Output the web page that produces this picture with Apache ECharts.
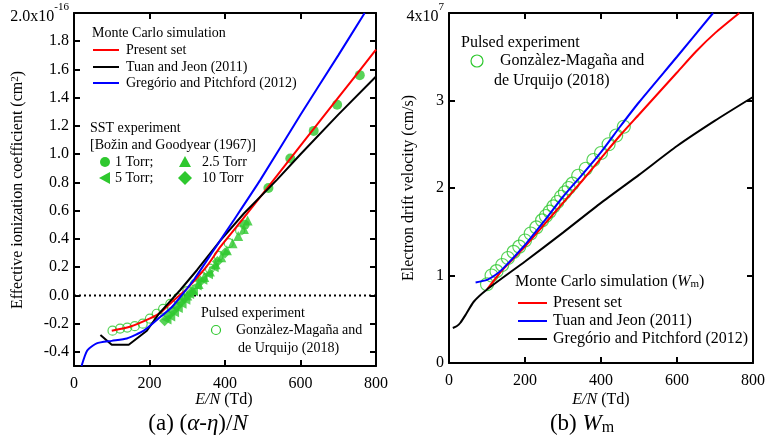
<!DOCTYPE html>
<html>
<head>
<meta charset="utf-8">
<script src="https://cdn.jsdelivr.net/npm/echarts@6/dist/echarts.min.js"></script>
<style>
  html, body { margin: 0; padding: 0; background: #fff; }
  #chart { width: 774px; height: 436px; }
</style>
</head>
<body>
<div id="chart"></div>
<script>
// ---- (a) effective ionization coefficient, x1e-16 cm2 ----
const xTicks = [0, 200, 400, 600, 800];
const yTicksA = [-0.4, -0.2, 0, 0.2, 0.4, 0.6, 0.8, 1.0, 1.2, 1.4, 1.6, 1.8, 2.0];
const presentA = [[100,-0.25],[150,-0.22],[200,-0.165],[230,-0.12],[260,-0.045],[300,0.05],[350,0.2],[388,0.345],[450,0.55],[515,0.77],[600,1.06],[700,1.4],[800,1.74]];
const tuanA = [[70,-0.28],[100,-0.35],[145,-0.35],[193,-0.25],[225,-0.13],[255,-0.04],[282,0.04],[326,0.18],[388,0.39],[450,0.58],[538,0.82],[600,1.0],[700,1.28],[800,1.55]];
const gregorioA = [[20,-0.5],[35,-0.39],[60,-0.34],[100,-0.322],[140,-0.305],[185,-0.25],[230,-0.15],[260,-0.08],[285,0.0],[320,0.12],[370,0.32],[420,0.52],[494,0.82],[600,1.28],[700,1.7],[770,2.0]];
const zeroLine = [[0,0],[800,0]];
const sst1 = [[452,0.5],[515,0.76],[573,0.97],[635,1.165],[697,1.35],[757,1.56]];
const sst25 = [[300,0.0],[315,0.04],[330,0.08],[345,0.13],[360,0.17],[375,0.22],[390,0.27],[405,0.32],[420,0.37],[435,0.42],[450,0.47],[460,0.53]];
const sst5 = [[245,-0.17],[255,-0.15],[265,-0.12],[275,-0.09],[285,-0.06],[295,-0.03],[305,0.01],[315,0.03],[325,0.07],[340,0.11],[355,0.15],[370,0.2]];
const sst10 = [[240,-0.18],[250,-0.14],[262,-0.11],[272,-0.08],[282,-0.05],[292,-0.02],[310,0.02],[335,0.1],[380,0.24],[400,0.3]];
const pulsedA = [[102,-0.25],[122,-0.235],[141,-0.228],[161,-0.218],[182,-0.2],[201,-0.165],[219,-0.13],[236,-0.095],[255,-0.06],[275,-0.02],[300,0.03],[320,0.08],[340,0.13],[360,0.19],[383,0.28],[410,0.37],[440,0.46]];

// ---- (b) electron drift velocity, x1e7 cm/s ----
const yTicksB = [0, 1, 2, 3, 4];
const presentB = [[100,0.84],[140,1.06],[200,1.33],[240,1.53],[300,1.83],[350,2.08],[400,2.34],[450,2.6],[500,2.84],[550,3.08],[600,3.32],[650,3.56],[700,3.77],[764,4.0]];
const tuanB = [[70,0.92],[100,0.95],[120,1.0],[140,1.07],[200,1.35],[250,1.62],[300,1.9],[350,2.15],[400,2.41],[450,2.7],[500,2.98],[600,3.5],[695,4.0]];
const gregorioB = [[10,0.4],[20,0.42],[30,0.46],[45,0.56],[65,0.7],[100,0.84],[200,1.16],[300,1.49],[400,1.83],[500,2.15],[600,2.48],[700,2.77],[800,3.04]];
const pulsedB = [[100,0.9],[112,1.0],[125,1.05],[140,1.12],[155,1.2],[170,1.27],[185,1.33],[200,1.4],[215,1.48],[230,1.55],[245,1.63],[255,1.68],[265,1.73],[275,1.79],[285,1.84],[295,1.9],[305,1.95],[315,2.0],[325,2.05],[340,2.14],[360,2.22],[380,2.32],[400,2.4],[420,2.5],[440,2.6],[460,2.7]];

const FONT = 'Liberation Serif';
const GREEN = '#2ec82e';
const RED = '#ff0000', BLUE = '#0000ff', BLACK = '#000000';

const chart = echarts.init(document.getElementById('chart'));

function xAxis(grid, pos, labels) {
  return {
    type: 'value', gridIndex: grid, position: pos, min: 0, max: 800, interval: 200,
    axisLine: { onZero: false, lineStyle: { color: '#000', width: 2 } },
    axisTick: { show: true, inside: true, length: 6, lineStyle: { color: '#000', width: 2 } },
    axisLabel: { show: labels, margin: 10, fontFamily: FONT, fontSize: 16, color: '#000' },
    splitLine: { show: false }
  };
}

function yAxis(grid, pos, min, max, ticks, labels, fmt, rich) {
  return {
    type: 'value', gridIndex: grid, position: pos, min: min, max: max,
    axisLine: { onZero: false, lineStyle: { color: '#000', width: 2 } },
    axisTick: { show: true, inside: true, length: 6, customValues: ticks, lineStyle: { color: '#000', width: 2 } },
    axisLabel: { show: labels, customValues: ticks, margin: 5, fontFamily: FONT, fontSize: 16, color: '#000', formatter: fmt, rich: rich },
    splitLine: { show: false }
  };
}

const supRich = {
  b: { fontFamily: FONT, fontSize: 16, color: '#000', lineHeight: 22, padding: [8, 0, 0, 0] },
  s: { fontFamily: FONT, fontSize: 11, color: '#000', verticalAlign: 'top', lineHeight: 12 }
};

function fmtA(v) {
  if (Math.abs(v - 2) < 1e-9) return '{b|2.0x10}{s|-16}';
  return v.toFixed(1);
}
function fmtB(v) {
  if (v === 4) return '{b|4x10}{s|7}';
  return String(v);
}

function line(name, data, color, xi, yi, smooth) {
  return {
    name: name, type: 'line', data: data, xAxisIndex: xi, yAxisIndex: yi,
    showSymbol: false, smooth: smooth,
    lineStyle: { color: color, width: 2 }, z: 5, silent: true
  };
}

function scatter(name, data, symbol, size, xi, yi, rotate, open) {
  return {
    name: name, type: 'scatter', data: data, xAxisIndex: xi, yAxisIndex: yi,
    symbol: symbol, symbolSize: size, symbolRotate: rotate || 0,
    itemStyle: open ? { color: 'rgba(0,0,0,0)', borderColor: GREEN, borderWidth: 1.2 } : { color: GREEN },
    z: 3, silent: true
  };
}

function txt(x, y, s, size, extra) {
  return {
    type: 'text', x: x, y: y, silent: true,
    style: Object.assign({ text: s, fontFamily: FONT, fontSize: size, fill: '#000', verticalAlign: 'middle' }, extra || {})
  };
}
function seg(x1, x2, y, color) {
  return { type: 'line', silent: true, shape: { x1: x1, y1: y, x2: x2, y2: y }, style: { stroke: color, lineWidth: 2 } };
}
function poly(points, fill, stroke) {
  return { type: 'polygon', silent: true, shape: { points: points }, style: { fill: fill || 'none', stroke: stroke || null, lineWidth: 1.2 } };
}

const option = {
  backgroundColor: '#fff',
  animation: false,
  grid: [
    { left: 74, top: 13, width: 302, height: 353 },
    { left: 449, top: 13, width: 304, height: 350 }
  ],
  xAxis: [
    xAxis(0, 'bottom', true), xAxis(0, 'top', false),
    xAxis(1, 'bottom', true), xAxis(1, 'top', false)
  ],
  yAxis: [
    yAxis(0, 'left', -0.5, 2.0, yTicksA, true, fmtA, supRich),
    yAxis(0, 'right', -0.5, 2.0, yTicksA, false),
    yAxis(1, 'left', 0, 4, yTicksB, true, fmtB, supRich),
    yAxis(1, 'right', 0, 4, yTicksB, false)
  ],
  series: [
    scatter('1 Torr', sst1, 'circle', 10, 0, 0),
    scatter('2.5 Torr', sst25, 'triangle', 10, 0, 0),
    scatter('5 Torr', sst5, 'triangle', 10, 0, 0, 90),
    scatter('10 Torr', sst10, 'diamond', 11, 0, 0),
    scatter('Pulsed experiment (a)', pulsedA, 'circle', 9, 0, 0, 0, true),
    {
      name: 'zero', type: 'line', data: zeroLine, xAxisIndex: 0, yAxisIndex: 0, showSymbol: false,
      lineStyle: { color: '#000', width: 2, type: [2, 3] }, z: 2, silent: true
    },
    line('Present set', presentA, RED, 0, 0, 0.2),
    line('Tuan and Jeon (2011)', tuanA, BLACK, 0, 0, false),
    line('Gregório and Pitchford (2012)', gregorioA, BLUE, 0, 0, 0.2),

    scatter('Pulsed experiment (b)', pulsedB, 'circle', 13, 2, 2, 0, true),
    line('Present set (b)', presentB, RED, 2, 2, 0.2),
    line('Tuan and Jeon (2011) (b)', tuanB, BLUE, 2, 2, 0.2),
    line('Gregório and Pitchford (2012) (b)', gregorioB, BLACK, 2, 2, 0.2)
  ],
  graphic: [
    // left legend: Monte Carlo
    txt(92, 33, 'Monte Carlo simulation', 14),
    seg(93, 119, 50, RED), txt(126, 50, 'Present set', 14),
    seg(93, 119, 67, BLACK), txt(126, 67, 'Tuan and Jeon (2011)', 14),
    seg(93, 119, 83, BLUE), txt(126, 83, 'Gregório and Pitchford (2012)', 14),
    // left legend: SST
    txt(90, 128, 'SST experiment', 14),
    txt(90, 145, '[Božin and Goodyear (1967)]', 14),
    { type: 'circle', silent: true, shape: { cx: 105, cy: 162, r: 5 }, style: { fill: GREEN } },
    txt(115, 162, '1 Torr;', 14),
    poly([[185, 156], [191, 167], [179, 167]], GREEN),
    txt(202, 162, '2.5 Torr', 14),
    poly([[99, 178], [110, 172], [110, 184]], GREEN),
    txt(115, 178, '5 Torr;', 14),
    poly([[185, 171], [192, 178], [185, 185], [178, 178]], GREEN),
    txt(202, 178, '10 Torr', 14),
    // left legend: pulsed
    txt(201, 313, 'Pulsed experiment', 14),
    { type: 'circle', silent: true, shape: { cx: 216, cy: 330, r: 4.5 }, style: { fill: 'none', stroke: GREEN, lineWidth: 1.2 } },
    txt(236, 330, 'Gonzàlez-Magaña and', 14),
    txt(238, 348, 'de Urquijo (2018)', 14),
    // right legend: pulsed
    txt(461, 43, 'Pulsed experiment', 16),
    { type: 'circle', silent: true, shape: { cx: 477, cy: 61, r: 6 }, style: { fill: 'none', stroke: GREEN, lineWidth: 1.2 } },
    txt(500, 61, 'Gonzàlez-Magaña and', 16),
    txt(494, 81, 'de Urquijo (2018)', 16),
    // right legend: Monte Carlo
    txt(515, 282, 'Monte Carlo simulation ({i|W}{sub|m})', 16, {
      rich: {
        i: { fontFamily: FONT, fontSize: 16, fontStyle: 'italic', fill: '#000' },
        sub: { fontFamily: FONT, fontSize: 11, fill: '#000', verticalAlign: 'bottom', lineHeight: 14, padding: [6, 0, 0, 0] }
      }
    }),
    seg(518, 547, 303, RED), txt(553, 303, 'Present set', 16),
    seg(518, 547, 321, BLUE), txt(553, 321, 'Tuan and Jeon (2011)', 16),
    seg(518, 547, 339, BLACK), txt(553, 339, 'Gregório and Pitchford (2012)', 16),
    // axis titles
    txt(18, 190, 'Effective ionization coefficient (cm{s|2})', 16, {
      align: 'center', rich: { s: { fontFamily: FONT, fontSize: 11, fill: '#000', verticalAlign: 'top', lineHeight: 12 } }
    }),
    txt(409, 188, 'Electron drift velocity (cm/s)', 16, { align: 'center' }),
    txt(224, 400, '{i|E/N} (Td)', 16, { align: 'center', rich: { i: { fontFamily: FONT, fontSize: 16, fontStyle: 'italic', fill: '#000' } } }),
    txt(601, 400, '{i|E/N} (Td)', 16, { align: 'center', rich: { i: { fontFamily: FONT, fontSize: 16, fontStyle: 'italic', fill: '#000' } } }),
    // captions
    txt(198, 424, '(a) ({i|α}-{i|η})/{i|N}', 23, { align: 'center', rich: { i: { fontFamily: FONT, fontSize: 23, fontStyle: 'italic', fill: '#000' } } }),
    txt(582, 424, '(b) {i|W}{sub|m}', 23, {
      align: 'center', rich: {
        i: { fontFamily: FONT, fontSize: 23, fontStyle: 'italic', fill: '#000' },
        sub: { fontFamily: FONT, fontSize: 16, fill: '#000', verticalAlign: 'bottom', lineHeight: 18, padding: [8, 0, 0, 0] }
      }
    })
  ]
};

// rotate the two y titles
option.graphic[option.graphic.length - 6].rotation = Math.PI / 2;
option.graphic[option.graphic.length - 5].rotation = Math.PI / 2;

chart.setOption(option);
</script>
</body>
</html>
